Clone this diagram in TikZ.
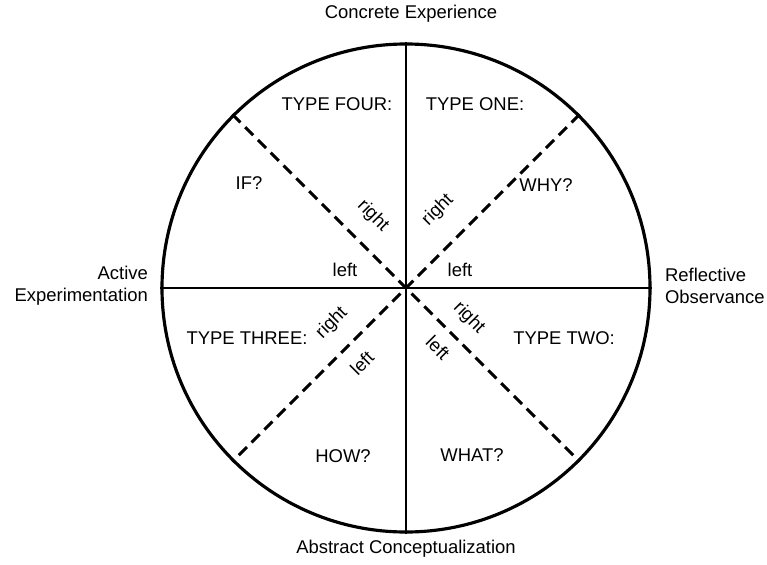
\documentclass[tikz,border=0pt]{standalone}
\usepackage{fontspec}
\setmainfont{Liberation Sans}
\usetikzlibrary{positioning}

\begin{document}
\begin{tikzpicture}[
  lab/.style={font=\fontsize{10.5}{12.5}\selectfont, inner sep=1pt},
  side/.style={lab, rotate=#1},
  pole/.style={lab, align=center},
  axis/.style={line width=1.6pt},
  split/.style={line width=1.7pt, dash pattern=on 6.5pt off 3.8pt}]
\useasboundingbox (-8.12,-5.52) rectangle (7.22,5.76);
\node[draw, circle, line width=1.8pt, minimum size=9.76cm, inner sep=0pt] (wheel) at (0,0) {};
\draw[axis] (wheel.north) -- (wheel.south);
\draw[axis] (wheel.west) -- (wheel.east);
\draw[split] (wheel.45) -- (wheel.225);
\draw[split] (wheel.135) -- (wheel.-45);
% poles
\node[pole] (ce) at (0.10,5.48) {Concrete Experience};
\node[pole] (ac) at (0,-5.22) {Abstract Conceptualization};
\node[lab, align=right, anchor=east] (ae) at (-5.12,0.04) {Active\\Experimentation};
\node[lab, align=left, anchor=west] (ro) at (5.14,0.04) {Reflective\\Observance};
% quadrants
\node[lab] (t4) at (-1.38,3.68) {TYPE FOUR:};
\node[lab] (t1) at (1.38,3.68) {TYPE ONE:};
\node[lab] (t3) at (-3.18,-1.00) {TYPE THREE:};
\node[lab] (t2) at (3.16,-1.00) {TYPE TWO:};
\node[lab] (qif) at (-3.14,2.10) {IF?};
\node[lab] (qwhy) at (2.80,2.06) {WHY?};
\node[lab] (qhow) at (-1.26,-3.36) {HOW?};
\node[lab] (qwhat) at (1.32,-3.34) {WHAT?};
% hemispheres
\node[lab] (l4) at (-1.22,0.36) {left};
\node[lab] (l1) at (1.08,0.36) {left};
\node[side=-45] (r4) at (-0.66,1.44) {right};
\node[side=45] (r1) at (0.64,1.56) {right};
\node[side=45] (r3) at (-1.48,-0.70) {right};
\node[side=45] (l3) at (-0.88,-1.50) {left};
\node[side=-45] (r2) at (1.26,-0.60) {right};
\node[side=-45] (l2) at (0.64,-1.20) {left};
\end{tikzpicture}
\end{document}
